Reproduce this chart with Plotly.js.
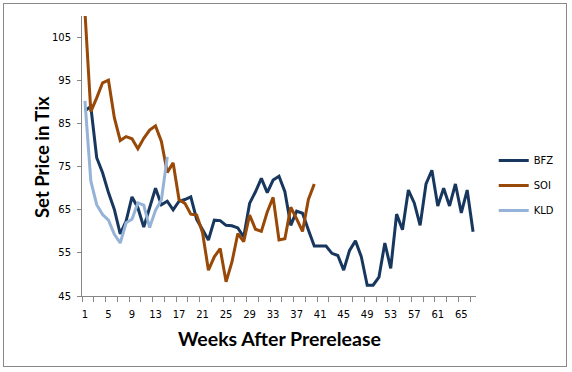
<!DOCTYPE html>
<html>
<head>
<meta charset="utf-8">
<script src="https://cdn.plot.ly/plotly-3.0.1.min.js"></script>
<style>
  html, body { margin: 0; padding: 0; background: #ffffff; }
  #wrap { position: relative; width: 572px; height: 372px; }
  #chart { width: 572px; height: 372px; }
  #frame { position: absolute; left: 3px; top: 3px; width: 564px; height: 364px;
           border: 1px solid #888888; pointer-events: none; box-sizing: border-box; }
</style>
</head>
<body>
<div id="wrap">
  <div id="chart"></div>
  <div id="frame"></div>
</div>
<script>
// Categories: weeks after prerelease
var weeks = [1,2,3,4,5,6,7,8,9,10,11,12,13,14,15,16,17,18,19,20,
             21,22,23,24,25,26,27,28,29,30,31,32,33,34,35,36,37,38,39,40,
             41,42,43,44,45,46,47,48,49,50,51,52,53,54,55,56,57,58,59,60,
             61,62,63,64,65,66,67];

// Series values (set price in tix)
var bfz = [88, 89, 77.1, 73.6, 69, 65.1, 59.4, 62.4, 68, 65.5,
           61, 65.5, 70, 66.2, 67, 65, 67, 67.4, 68, 62.8,
           60.5, 58, 62.6, 62.5, 61.4, 61.3, 60.8, 58.7, 66.5, 69.2,
           72.3, 69, 71.9, 72.8, 69.2, 61.4, 64.7, 64.2, 60.3, 56.6,
           56.6, 56.6, 54.9, 54.4, 51, 55.6, 57.8, 54.1, 47.5, 47.5,
           49.4, 57.3, 51.4, 64, 60.4, 69.6, 66.6, 61.4, 71, 74.2,
           65.9, 70, 65.9, 71, 64.3, 69.6, 59.9];

var soi = [111, 87.8, 91, 94.5, 95.1, 86.4, 81.1, 82, 81.5, 79.2,
           81.6, 83.5, 84.5, 80.9, 73.7, 75.9, 67.4, 66.5, 64, 63.8,
           59.7, 51, 54.1, 56, 48.3, 52.9, 59.5, 57.6, 63.8, 60.5,
           60, 64.5, 67.9, 58, 58.3, 65.6, 62.9, 60, 67.4, 71];

var kld = [90.3, 71.7, 66.2, 63.9, 62.6, 59.3, 57.3, 62, 62.8, 66.6,
           66.1, 60.9, 64.9, 67.3, 77.3];

// Tick labels
var xTickVals = [1,5,9,13,17,21,25,29,33,37,41,45,49,53,57,61,65];
var yTickVals = [45,55,65,75,85,95,105];

var seriesNames = ["BFZ", "SOI", "KLD"];
var seriesColors = ["#17375E", "#984807", "#95B3D7"];
var seriesData = [bfz, soi, kld];

var traces = seriesData.map(function (vals, i) {
  return {
    type: "scatter",
    mode: "lines",
    name: seriesNames[i],
    legendgroup: seriesNames[i],
    x: weeks.slice(0, vals.length),
    y: vals,
    line: { color: seriesColors[i], width: 3 },
    hoverinfo: "x+y+name"
  };
});

var tickFont = { family: "DejaVu Sans, Verdana, sans-serif", size: 10, color: "#000000" };

var layout = {
  width: 572,
  height: 372,
  margin: { l: 82, r: 90, t: 16, b: 76, pad: 0 },
  paper_bgcolor: "#ffffff",
  plot_bgcolor: "#ffffff",
  showlegend: true,
  legend: {
    x: 1.045, xanchor: "left",
    y: 0.536, yanchor: "top",
    font: tickFont,
    tracegroupgap: 6,
    traceorder: "grouped",
    itemwidth: 30,
    bgcolor: "rgba(0,0,0,0)"
  },
  xaxis: {
    range: [0.5, 67.5],
    tickmode: "array",
    tickvals: xTickVals,
    ticktext: xTickVals.map(String),
    ticks: "",
    ticklabelstandoff: 9,
    tickfont: tickFont,
    showgrid: false,
    zeroline: false,
    showline: true,
    linecolor: "#868686",
    linewidth: 1,
    minor: { tickmode: "linear", tick0: 0.5, dtick: 2, ticks: "outside", ticklen: 5, tickcolor: "#868686", tickwidth: 1, showgrid: false },
    fixedrange: true
  },
  yaxis: {
    range: [45, 110],
    tickmode: "array",
    tickvals: yTickVals,
    ticktext: yTickVals.map(String),
    ticks: "outside",
    ticklen: 4,
    ticklabelstandoff: 4,
    tickcolor: "#868686",
    tickfont: tickFont,
    showgrid: false,
    zeroline: false,
    showline: true,
    linecolor: "#868686",
    linewidth: 1,
    fixedrange: true
  },
  annotations: [
    {
      text: "Weeks After Prerelease",
      xref: "paper", yref: "paper",
      x: 0.5, y: -0.152, xanchor: "center", yanchor: "middle",
      showarrow: false,
      font: { family: "Lato, sans-serif", size: 19.5, color: "#000000", weight: "bold" }
    },
    {
      text: "Set Price in Tix",
      xref: "paper", yref: "paper",
      x: -0.1, y: 0.495, xanchor: "center", yanchor: "middle",
      textangle: -90,
      showarrow: false,
      font: { family: "Lato, sans-serif", size: 18.5, color: "#000000", weight: "bold" }
    }
  ]
};

Plotly.newPlot("chart", traces, layout, { displayModeBar: false, staticPlot: true });
</script>
</body>
</html>
